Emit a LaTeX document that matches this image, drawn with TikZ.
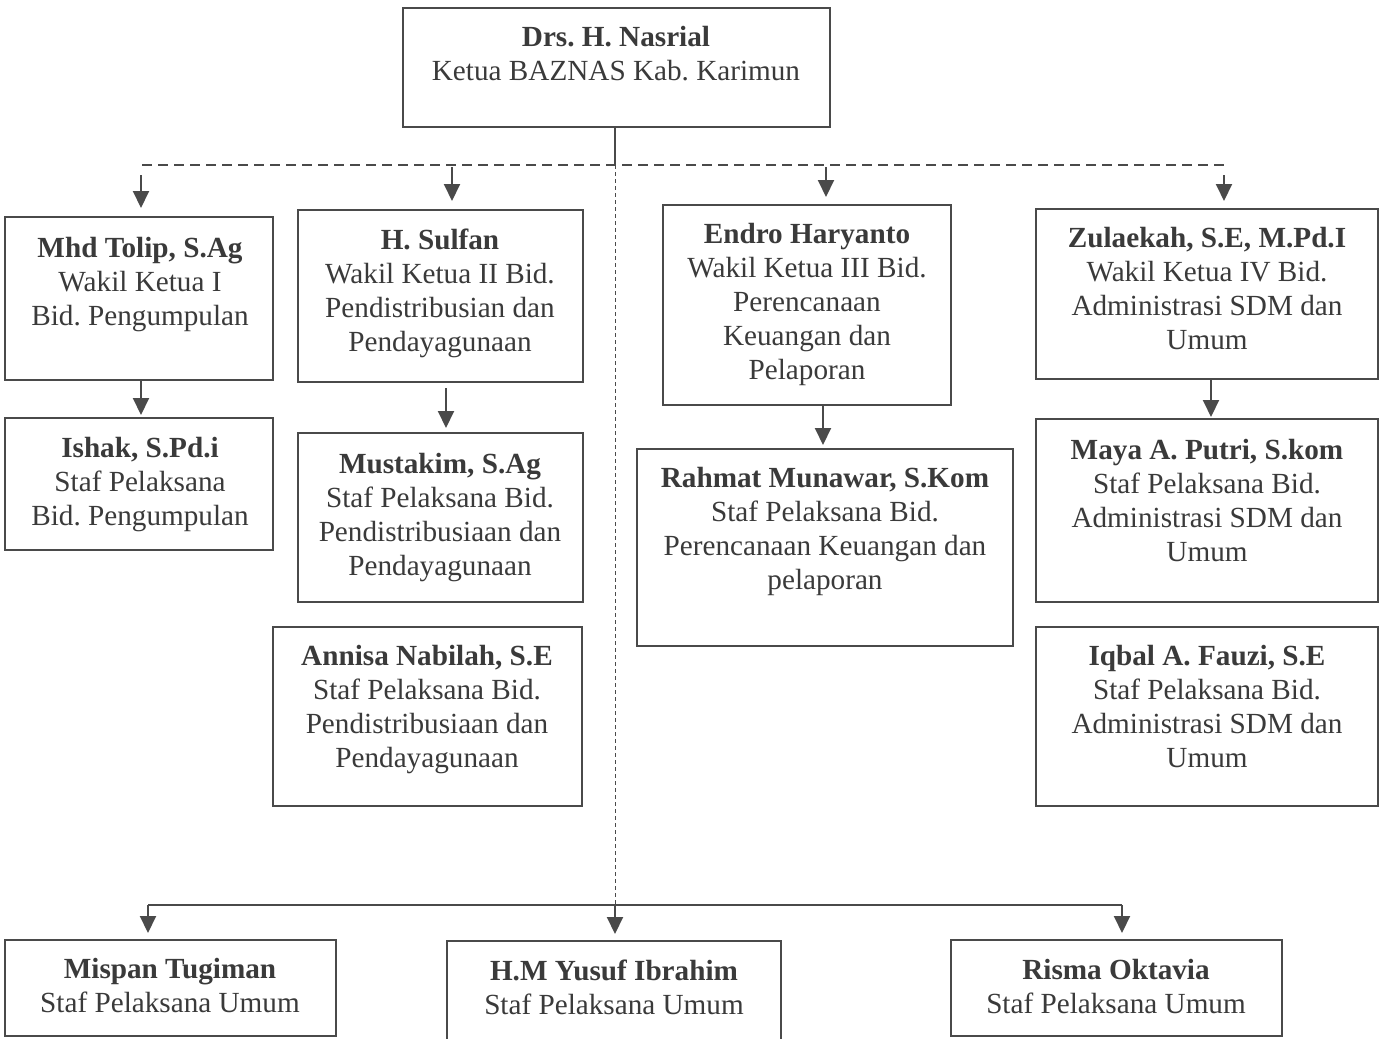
\documentclass[tikz,border=0pt]{standalone}
\usepackage{fontspec}
\setmainfont{Liberation Serif}
\usetikzlibrary{arrows.meta,calc}
\definecolor{ink}{HTML}{3A3A3A}
\definecolor{ln}{HTML}{4A4A4A}
\newcommand\orgbox[5]{\node[box,minimum width={(#4-#2)*0.5pt},minimum height={(#5-#3)*0.5pt}] (#1) at (#2,#3) {};}
\begin{document}
\frenchspacing
\begin{tikzpicture}[x=0.5pt,y=-0.5pt,
  box/.style={draw=ln,line width=0.6pt,inner sep=0pt,outer sep=0pt,anchor=north west},
  txt/.style={text=ink,align=center,inner sep=0pt,anchor=north,font=\fontsize{14.6}{17}\selectfont\frenchspacing},
  arr/.style={draw=ln,line width=1pt,-{Triangle[length=8.5pt,width=8pt]}},
  solidline/.style={draw=ln,line width=0.9pt},
  busdash/.style={draw=ln,line width=0.8pt,dash pattern=on 5pt off 3pt},
  finedash/.style={draw=ln,line width=0.5pt,dash pattern=on 2pt off 1.5pt}]
\clip (0,0) rectangle (1382,1039);
\fill[white] (0,0) rectangle (1382,1039);

% boxes
\orgbox{nasrial}{403}{8}{830}{127}
\orgbox{tolip}{5}{217}{273}{380}
\orgbox{sulfan}{298}{210}{583}{382}
\orgbox{endro}{663}{205}{951}{405}
\orgbox{zulaekah}{1036}{209}{1378}{379}
\orgbox{ishak}{5}{418}{273}{550}
\orgbox{mustakim}{298}{433}{583}{602}
\orgbox{annisa}{273}{627}{582}{806}
\orgbox{rahmat}{637}{449}{1013}{646}
\orgbox{maya}{1036}{419}{1378}{602}
\orgbox{iqbal}{1036}{627}{1378}{806}
\orgbox{mispan}{5}{940}{336}{1036}
\orgbox{yusuf}{447}{941}{781}{1060}
\orgbox{risma}{951}{940}{1282}{1036}

% texts
\node[txt] (t-nasrial) at (616,26) {\textbf{Drs. H. Nasrial}\\Ketua BAZNAS Kab. Karimun};
\node[txt] (t-tolip) at (140,237) {\textbf{Mhd Tolip, S.Ag}\\Wakil Ketua I\\Bid. Pengumpulan};
\node[txt] (t-sulfan) at (440,229) {\textbf{H. Sulfan}\\Wakil Ketua II Bid.\\Pendistribusian dan\\Pendayagunaan};
\node[txt] (t-endro) at (807,223) {\textbf{Endro Haryanto}\\Wakil Ketua III Bid.\\Perencanaan\\Keuangan dan\\Pelaporan};
\node[txt] (t-zulaekah) at (1207,227) {\textbf{Zulaekah, S.E, M.Pd.I}\\Wakil Ketua IV Bid.\\Administrasi SDM dan\\Umum};
\node[txt] (t-ishak) at (140,437) {\textbf{Ishak, S.Pd.i}\\Staf Pelaksana\\Bid. Pengumpulan};
\node[txt] (t-mustakim) at (440,453) {\textbf{Mustakim, S.Ag}\\Staf Pelaksana Bid.\\Pendistribusiaan dan\\Pendayagunaan};
\node[txt] (t-annisa) at (427,645) {\textbf{Annisa Nabilah, S.E}\\Staf Pelaksana Bid.\\Pendistribusiaan dan\\Pendayagunaan};
\node[txt] (t-rahmat) at (825,467) {\textbf{Rahmat Munawar, S.Kom}\\Staf Pelaksana Bid.\\Perencanaan Keuangan dan\\pelaporan};
\node[txt] (t-maya) at (1207,439) {\textbf{Maya A. Putri, S.kom}\\Staf Pelaksana Bid.\\Administrasi SDM dan\\Umum};
\node[txt] (t-iqbal) at (1207,645) {\textbf{Iqbal A. Fauzi, S.E}\\Staf Pelaksana Bid.\\Administrasi SDM dan\\Umum};
\node[txt] (t-mispan) at (170,958) {\textbf{Mispan Tugiman}\\Staf Pelaksana Umum};
\node[txt] (t-yusuf) at (614,960) {\textbf{H.M Yusuf Ibrahim}\\Staf Pelaksana Umum};
\node[txt] (t-risma) at (1116,959) {\textbf{Risma Oktavia}\\Staf Pelaksana Umum};

% connector points
\coordinate (hub) at (615,165);
\coordinate (bus) at (615,905);
\coordinate (dl) at (142,165);
\coordinate (dr) at (1225,165);
\coordinate (a1) at (141,175);
\coordinate (a2) at (452,167);
\coordinate (a3) at (826,167);
\coordinate (a4) at (1224,175);
\coordinate (s2) at (446,388);
\coordinate (s3) at (823,405);
\coordinate (s4) at (1211,379);
\coordinate (bl) at (148,905);
\coordinate (br) at (1122,905);

% top structure
\draw[solidline] (nasrial.south -| hub) -- (hub);
\draw[busdash] (dl) -- (dr);
\draw[finedash] (hub) -- (bus);
\draw[arr,shorten >=4.5pt] (a1) -- (a1 |- tolip.north);
\draw[arr,shorten >=4.5pt] (a2) -- (a2 |- sulfan.north);
\draw[arr,shorten >=4pt] (a3) -- (a3 |- endro.north);
\draw[arr,shorten >=4pt] (a4) -- (a4 |- zulaekah.north);

% vertical links
\draw[arr,shorten >=1.5pt] (a1 |- tolip.south) -- (a1 |- ishak.north);
\draw[arr,shorten >=2.5pt] (s2) -- (s2 |- mustakim.north);
\draw[arr,shorten >=2pt] (s3) -- (s3 |- rahmat.north);
\draw[arr,shorten >=1pt] (s4) -- (s4 |- maya.north);

% bottom structure
\draw[solidline] (bl) -- (br);
\draw[arr,shorten >=3.5pt] (bl) -- (bl |- mispan.north);
\draw[arr,shorten >=3.5pt] (bus) -- (bus |- yusuf.north);
\draw[arr,shorten >=3.5pt] (br) -- (br |- risma.north);
\end{tikzpicture}
\end{document}
